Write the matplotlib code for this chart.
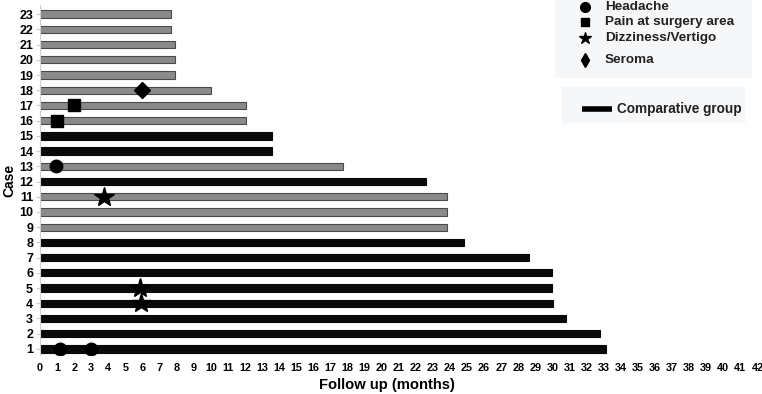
import matplotlib.pyplot as plt
from matplotlib.patches import Rectangle
import numpy as np

plt.rcParams['font.family'] = ['Liberation Sans', 'DejaVu Sans']
plt.rcParams['font.weight'] = 'bold'

# Follow-up per case (months)
cases = list(range(1, 24))
follow_up = [33.15, 32.8, 30.8, 30.05, 30.0, 30.0, 28.6, 24.8, 23.8, 23.8,
             23.8, 22.6, 17.75, 13.6, 13.6, 12.05, 12.05, 10.0, 7.9, 7.9,
             7.9, 7.65, 7.65]
study_cases = [9, 10, 11, 13, 16, 17, 18, 19, 20, 21, 22, 23]

# Events (case, month)
headache_case = [1, 1, 13]
headache_month = [1.15, 3.0, 0.95]
pain_case = [16, 17]
pain_month = [1.0, 2.0]
dizzy_case = [11, 5, 4]
dizzy_month = [3.75, 5.85, 5.9]
seroma_case = [18]
seroma_month = [6.0]

W, H = 762, 394
fig = plt.figure(figsize=(W / 100, H / 100), dpi=100)
ax = fig.add_axes([40 / W, 1 - 355 / H, 720 / W, 350 / H])

colors = ['#8a8a8a' if c in study_cases else '#0a0a0a' for c in cases]
edges = ['#4a4a4a' if c in study_cases else '#0a0a0a' for c in cases]
ax.barh(cases, follow_up, height=0.48, color=colors, edgecolor=edges, linewidth=0.8, zorder=2)

ax.plot(headache_month, headache_case, 'o', color='black', markersize=9, ls='none', zorder=3)
ax.plot(pain_month, pain_case, 's', color='black', markersize=8, ls='none', zorder=3)
ax.plot(dizzy_month, dizzy_case, '*', color='black', markersize=15, ls='none', zorder=3)
ax.plot(seroma_month, seroma_case, 'D', color='black', markersize=8, ls='none', zorder=3)

ax.set_xlim(0, 42.15)
ax.set_ylim(0.6, 23.6)
ax.set_xticks(np.arange(0, 43, 1))
ax.set_yticks(cases)
ax.tick_params(axis='x', length=0, labelsize=7.8, pad=6)
ax.tick_params(axis='y', length=3, color='#cccccc', labelsize=9, pad=2)
for s in ['top', 'right', 'bottom']:
    ax.spines[s].set_visible(False)
ax.spines['left'].set_color('#d0d0d0')
ax.set_xlabel('Follow up (months)', fontsize=10.6, fontweight='bold', va='center')
ax.xaxis.set_label_coords(0.482, -0.086)
ax.set_ylabel('Case', fontsize=10, fontweight='bold', labelpad=2)

# legend panels in pixel coordinates
lg = fig.add_axes([0, 0, 1, 1])
lg.set_xlim(0, W)
lg.set_ylim(H, 0)
lg.axis('off')
lg.add_patch(Rectangle((555, 0), 196, 77, color='#f6f7f9', zorder=0))
lg.add_patch(Rectangle((562, 87), 182, 35, color='#f6f7f9', zorder=0))
items = [('o', 7, 'Headache', 7), ('s', 6, 'Pain at surgery area', 22),
         ('*', 9, 'Dizziness/Vertigo', 38), ('d', 7, 'Seroma', 60)]
for m, ms, label, y in items:
    lg.plot([585], [y], m, color='black', markersize=ms)
    lg.text(605, y, label, fontsize=9.7, fontweight='bold', va='center', ha='left', color='#222222')
lg.plot([582, 612], [109, 109], color='black', linewidth=4, solid_capstyle='butt')
lg.text(617, 109, 'Comparative group', fontsize=9.8, fontweight='bold', va='center', ha='left', color='#222222')

fig.savefig('out.png', dpi=100)
